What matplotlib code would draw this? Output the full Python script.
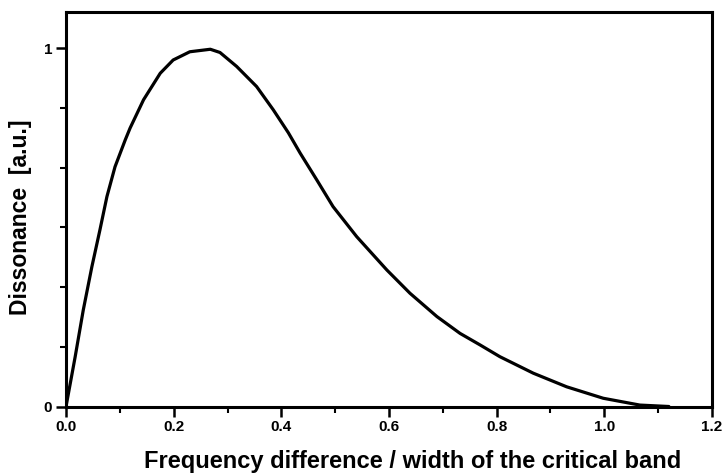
import matplotlib
matplotlib.use('Agg')
import matplotlib.pyplot as plt
from matplotlib.ticker import MultipleLocator, FixedLocator

# values
freq_diff = [0.0, 0.017, 0.032, 0.048, 0.063, 0.076, 0.091, 0.110, 0.119, 0.144,
             0.175, 0.199, 0.230, 0.268, 0.286, 0.317, 0.354, 0.385, 0.413, 0.435,
             0.466, 0.496, 0.540, 0.596, 0.639, 0.689, 0.732, 0.769, 0.806, 0.868,
             0.930, 0.998, 1.066, 1.12]
dissonance = [0.0, 0.139, 0.269, 0.390, 0.493, 0.586, 0.669, 0.744, 0.777, 0.856,
              0.930, 0.967, 0.990, 0.997, 0.988, 0.949, 0.893, 0.828, 0.764, 0.707,
              0.632, 0.558, 0.474, 0.381, 0.316, 0.251, 0.204, 0.172, 0.139, 0.093,
              0.055, 0.023, 0.004, 0.0]

xticks = [0.0, 0.2, 0.4, 0.6, 0.8, 1.0, 1.2]
xticklabels = ['0.0', '0.2', '0.4', '0.6', '0.8', '1.0', '1.2']

plt.rcParams['font.family'] = ['Liberation Sans', 'DejaVu Sans']

fig = plt.figure(figsize=(7.24, 4.75), dpi=100)
ax = fig.add_axes([0.0912, 0.1442, 0.8922, 0.8298])

ax.plot(freq_diff, dissonance, color='black', lw=2.3,
        solid_joinstyle='round', solid_capstyle='round')

ax.set_xlim(0, 1.2)
ax.set_ylim(0, 1.1)
ax.set_xticks(xticks)
ax.set_xticklabels(xticklabels, fontweight='bold', fontsize=11)
ax.xaxis.set_minor_locator(MultipleLocator(0.1))
ax.set_yticks([0, 1])
ax.set_yticklabels(['0', '1'], fontweight='bold', fontsize=11)
ax.yaxis.set_minor_locator(FixedLocator([1/6, 2/6, 3/6, 4/6, 5/6]))

ax.tick_params(which='major', direction='out', length=7, width=1.8, pad=3)
ax.tick_params(which='minor', direction='out', length=4, width=1.5)
for s in ax.spines.values():
    s.set_linewidth(2.2)

ax.set_xlabel('Frequency difference / width of the critical band',
              fontsize=17, fontweight='bold')
ax.xaxis.set_label_coords(0.537, -0.11)
ax.set_ylabel('Dissonance  [a.u.]', fontsize=16.5, fontweight='bold')
ax.yaxis.set_label_coords(-0.052, 0.48)

fig.savefig('out.png', dpi=100)
